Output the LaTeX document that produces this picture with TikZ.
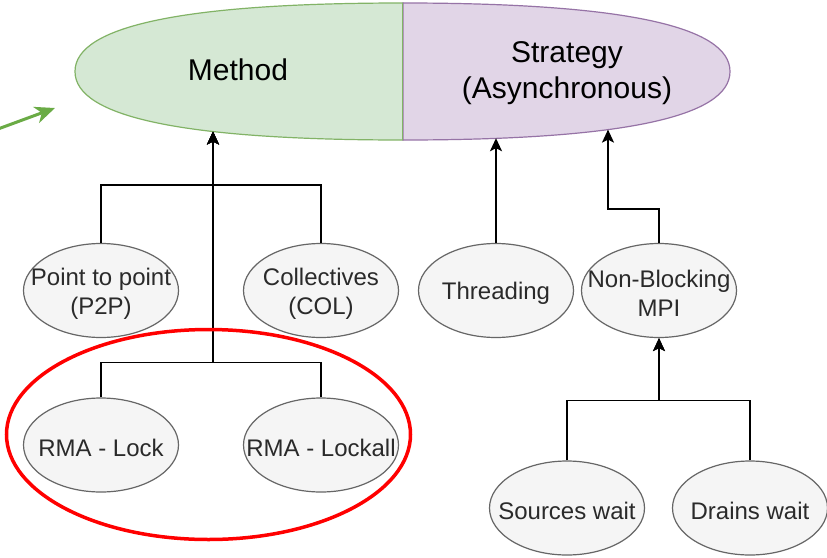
\documentclass[tikz,border=0pt]{standalone}
\usepackage{fontspec}
\setmainfont{Liberation Sans}
\usetikzlibrary{arrows.meta,shapes.geometric}
\definecolor{gfill}{HTML}{D5E8D4}
\definecolor{gline}{HTML}{82B366}
\definecolor{pfill}{HTML}{E1D5E7}
\definecolor{pline}{HTML}{9673A6}
\definecolor{efill}{HTML}{F5F5F5}
\definecolor{eline}{HTML}{666666}
\definecolor{etext}{HTML}{2A2A2A}
\definecolor{garrow}{HTML}{6AAB45}
\definecolor{redline}{HTML}{FF0000}
\begin{document}
\begin{tikzpicture}[x=1pt,y=-1pt,
 leaf/.style={ellipse, draw=eline, fill=efill, line width=1.2pt, minimum width=155pt, minimum height=94pt, inner sep=0pt},
 leaftext/.style={text=etext, font=\fontsize{24pt}{28.8pt}\selectfont, align=center, inner sep=0pt, yshift=-3pt},
 headtext/.style={text=black, font=\fontsize{30pt}{36pt}\selectfont, align=center, inner sep=0pt},
 conn/.style={draw=black, line width=1.6pt},
 arr/.style={conn, -{Stealth[length=13pt,width=12pt,inset=3pt]}},
 halfshape/.style={line width=1.2pt},
]
\useasboundingbox (0,0) rectangle (827,557);
\fill[white] (0,0) rectangle (827,557);
% top half-ellipse shapes
\draw[halfshape, fill=gfill, draw=gline] (403,3) .. controls (184.33,3) and (75,25.83) .. (75,71.5) .. controls (75,117.17) and (184.33,140) .. (403,140) -- cycle;
\draw[halfshape, fill=pfill, draw=pline] (403,3) .. controls (621,3) and (730,25.83) .. (730,71.5) .. controls (730,117.17) and (621,140) .. (403,140) -- cycle;
\draw[gline, line width=0.8pt] (402.4,3) -- (402.4,140);
\node[headtext] (method) at (238,70) {Method};
\node[headtext] (strategy) at (567,73) {Strategy\\(Asynchronous)};
\coordinate (methodIn) at (213,131.5);
\coordinate (thrIn) at (496,138.2);
\coordinate (nbIn) at (608,129.6);
% leaves
\node[leaf] (p2p) at (101,290.5) {};
\node[leaftext] at (p2p) {Point to point\\(P2P)};
\node[leaf] (col) at (321,290.5) {};
\node[leaftext] at (col) {Collectives\\(COL)};
\node[leaf] (lock) at (101,445) {};
\node[leaftext] at (lock) {RMA - Lock};
\node[leaf] (lockall) at (321,445) {};
\node[leaftext] at (lockall) {RMA - Lockall};
\node[leaf] (thr) at (496,290.5) {};
\node[leaftext] at (thr) {Threading};
\node[leaf] (nb) at (659,290.5) {};
\node[leaftext] at (nb) {Non-Blocking\\MPI};
\node[leaf] (src) at (567,508) {};
\node[leaftext] at (src) {Sources wait};
\node[leaf] (drn) at (750,508) {};
\node[leaftext] at (drn) {Drains wait};
% connectors
\draw[arr] (p2p.north) -- ++(0,-58) -| (methodIn);
\draw[arr] (col.north) -- ++(0,-58) -| (methodIn);
\draw[arr] (lock.north) -- ++(0,-35) -| (methodIn);
\draw[arr] (lockall.north) -- ++(0,-35) -| (methodIn);
\draw[arr] (thr.north) -- (thrIn);
\draw[arr] (nb.north) -- ++(0,-34) -| (nbIn);
\draw[arr] (src.north) -- ++(0,-60) -| (nb.south);
\draw[arr] (drn.north) -- ++(0,-60) -| (nb.south);
% red highlight
\node[draw=redline, line width=3.5pt, ellipse, minimum width=404pt, minimum height=210pt, inner sep=0pt] (rmagroup) at (208.5,434.5) {};
% green pointer
\coordinate (gs) at (-2,129);
\coordinate (ge) at (55,108);
\draw[garrow, line width=3pt, -{Stealth[length=20pt,width=17pt,inset=6pt]}] (gs) -- (ge);
\end{tikzpicture}
\end{document}
